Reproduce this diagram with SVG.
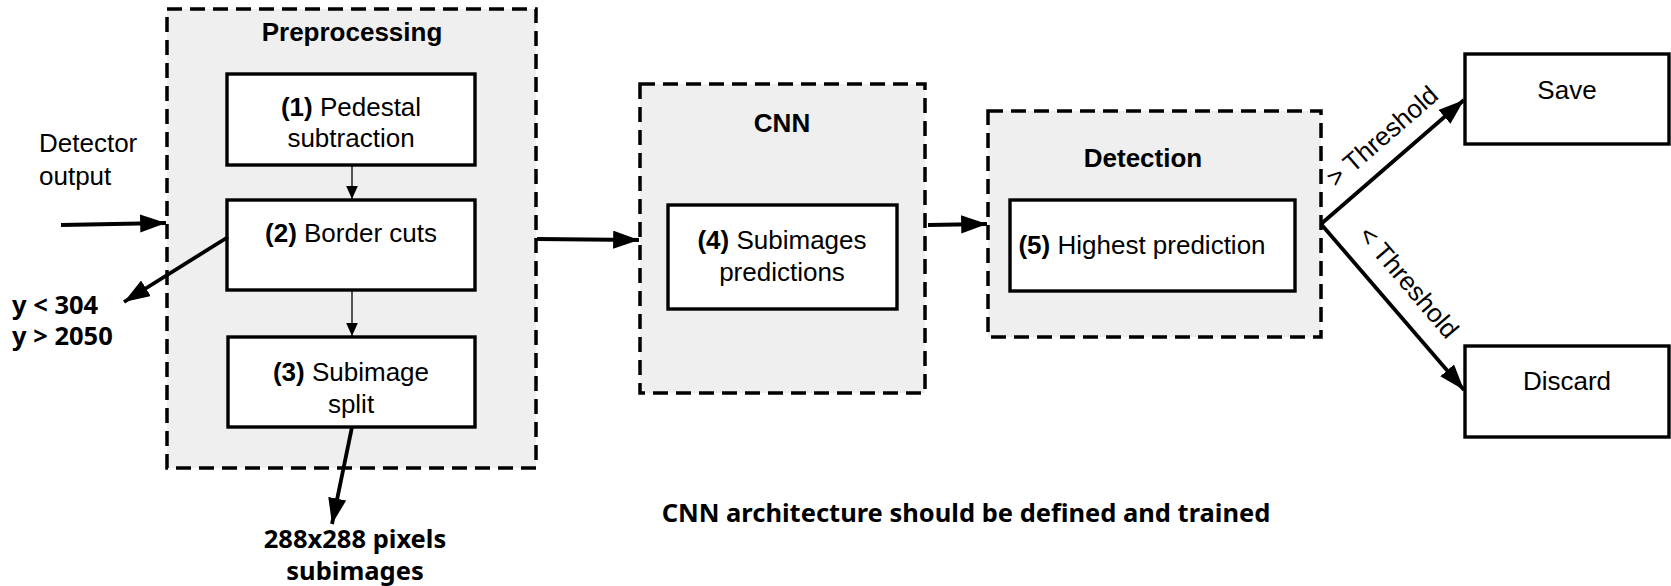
<svg xmlns="http://www.w3.org/2000/svg" width="1671" height="586" viewBox="0 0 1671 586">
<defs>
<style>
.grp{fill:#efefef;stroke:#000;stroke-width:3.5;stroke-dasharray:15 8}
.box{fill:#fff;stroke:#000;stroke-width:3.4}
.t{font-family:"Liberation Sans",Arial,sans-serif;font-size:26px;fill:#000}
.tb{font-family:"Liberation Sans",Arial,sans-serif;font-size:26px;font-weight:bold;fill:#000}
.ub{font-family:"Noto Sans","Open Sans",sans-serif;font-size:25.5px;font-weight:bold;fill:#000}
.thick{stroke:#000;stroke-width:3.8;fill:none}
.thin{stroke:#000;stroke-width:1.3;fill:none}
</style>
<marker id="ah" viewBox="0 0 10 10" refX="10" refY="5" markerWidth="6.8" markerHeight="4.8" markerUnits="strokeWidth" orient="auto" preserveAspectRatio="none">
<path d="M0,0 L10,5 L0,10 z" fill="#000"/>
</marker>
<marker id="ahs" viewBox="0 0 10 10" refX="10" refY="5" markerWidth="10" markerHeight="9" markerUnits="strokeWidth" orient="auto" preserveAspectRatio="none">
<path d="M0,0 L10,5 L0,10 z" fill="#000"/>
</marker>
</defs>
<g id="preprocessing">
<rect class="grp" x="167" y="9" width="369" height="459"/>
<text class="tb" x="352" y="41" text-anchor="middle">Preprocessing</text>
</g>
<g id="cnn">
<rect class="grp" x="640" y="84" width="285" height="309"/>
<text class="tb" x="782" y="132" text-anchor="middle">CNN</text>
</g>
<g id="detection">
<rect class="grp" x="988" y="111" width="333" height="226"/>
<text class="tb" x="1143" y="167" text-anchor="middle">Detection</text>
</g>
<g id="step1">
<rect class="box" x="227" y="74" width="248" height="91"/>
<text class="t" x="351" y="116" text-anchor="middle"><tspan font-weight="bold">(1)</tspan> Pedestal</text>
<text class="t" x="351" y="147" text-anchor="middle">subtraction</text>
</g>
<g id="step2">
<rect class="box" x="227" y="200" width="248" height="90"/>
<text class="t" x="351" y="242" text-anchor="middle"><tspan font-weight="bold">(2)</tspan> Border cuts</text>
</g>
<g id="step3">
<rect class="box" x="228" y="337" width="247" height="90"/>
<text class="t" x="351" y="381" text-anchor="middle"><tspan font-weight="bold">(3)</tspan> Subimage</text>
<text class="t" x="351" y="413" text-anchor="middle">split</text>
</g>
<g id="step4">
<rect class="box" x="668" y="205" width="229" height="104"/>
<text class="t" x="782" y="249" text-anchor="middle"><tspan font-weight="bold">(4)</tspan> Subimages</text>
<text class="t" x="782" y="281" text-anchor="middle">predictions</text>
</g>
<g id="step5">
<rect class="box" x="1010" y="200" width="285" height="91"/>
<text class="t" x="1142" y="254" text-anchor="middle"><tspan font-weight="bold">(5)</tspan> Highest prediction</text>
</g>
<g id="save">
<rect class="box" x="1465" y="54" width="204" height="90"/>
<text class="t" x="1567" y="99" text-anchor="middle">Save</text>
</g>
<g id="discard">
<rect class="box" x="1465" y="346" width="204" height="91"/>
<text class="t" x="1567" y="390" text-anchor="middle">Discard</text>
</g>
<g id="labels">
<text class="t" x="39" y="152">Detector</text>
<text class="t" x="39" y="185">output</text>
<text class="ub" x="12" y="314">y &lt; 304</text>
<text class="ub" x="12" y="345">y &gt; 2050</text>
<text class="ub" x="355" y="548" text-anchor="middle">288x288 pixels</text>
<text class="ub" x="355" y="580" text-anchor="middle">subimages</text>
<text class="ub" x="966" y="522" text-anchor="middle">CNN architecture should be defined and trained</text>
<text class="t" transform="translate(1388,143) rotate(-41)" text-anchor="middle">&gt; Threshold</text>
<text class="t" transform="translate(1402,288) rotate(49.5)" text-anchor="middle">&lt; Threshold</text>
</g>
<g id="connectors">
<line class="thin" x1="352" y1="165" x2="352" y2="199" marker-end="url(#ahs)"/>
<line class="thin" x1="352" y1="290" x2="352" y2="336" marker-end="url(#ahs)"/>
<line class="thick" x1="61" y1="225" x2="166" y2="223" marker-end="url(#ah)"/>
<line class="thick" x1="228" y1="237" x2="124" y2="302" marker-end="url(#ah)"/>
<line class="thick" x1="352" y1="427" x2="332" y2="524" marker-end="url(#ah)"/>
<line class="thick" x1="537" y1="239" x2="639" y2="240" marker-end="url(#ah)"/>
<line class="thick" x1="928" y1="225" x2="987" y2="224" marker-end="url(#ah)"/>
<line class="thick" x1="1321" y1="224" x2="1464" y2="100" marker-end="url(#ah)"/>
<line class="thick" x1="1321" y1="224" x2="1464" y2="390" marker-end="url(#ah)"/>
</g>
</svg>
